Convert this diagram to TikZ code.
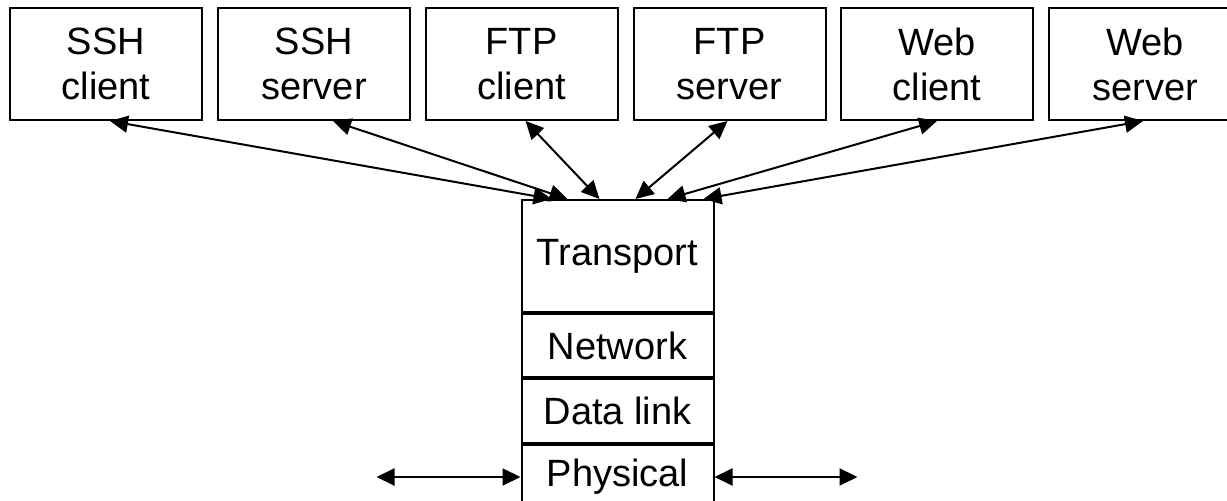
\documentclass[tikz,border=0pt]{standalone}
\usepackage{fontspec}
\setmainfont{Liberation Sans}
\usepackage{tikz}
\usetikzlibrary{arrows.meta}
\usetikzlibrary{positioning}

\begin{document}
\begin{tikzpicture}[x=0.5pt,y=-0.5pt]
      \tikzstyle{app}=[
        draw=black,
        line width=1pt,
        minimum width=96pt,
        minimum height=56pt,
        inner sep=0pt,
        align=center,
        font=\fontsize{19}{22.5}\selectfont,
      ]
      \tikzstyle{layer}=[app, minimum height=32pt]
      \tikzstyle{dedge}=[{Triangle[length=9pt,width=8.5pt]}-{Triangle[length=9pt,width=8.5pt]},line width=1pt,draw=black]

      \useasboundingbox (0,0) rectangle (1227,501);

      % applications
      \node[app] (sshc) at (106,64) {SSH\\client};
      \node[app] (sshs) at (314,64) {SSH\\server};
      \node[app] (ftpc) at (521.5,64) {FTP\\client};
      \node[app] (ftps) at (729.5,64) {FTP\\server};
      \node[app] (webc) at (937,64) {Web\\client};
      \node[app] (webs) at (1145,64) {Web\\server};

      % protocol stack
      \node[app] (trans) at (617.5,256) {Transport};
      \node[layer, minimum height=31.5pt, below=0pt of trans] (net) {Network};
      \node[layer, below=0pt of net] (dlink) {Data link};
      \node[layer, below=0pt of dlink] (phys) {Physical};

      \coordinate[left=72pt of phys.west] (wirel);
      \coordinate[right=71.5pt of phys.east] (wirer);

      \draw[dedge] ([xshift=2pt]sshc.south) -- ([xshift=-33pt]trans.north);
      \draw[dedge] ([xshift=9.5pt]sshs.south) -- ([xshift=-25pt]trans.north);
      \draw[dedge] ([xshift=2pt]ftpc.south) -- ([xshift=-9pt]trans.north);
      \draw[dedge] ([xshift=-1pt]ftps.south) -- ([xshift=9pt]trans.north);
      \draw[dedge] (webc.south) -- ([xshift=25pt]trans.north);
      \draw[dedge] ([xshift=-1pt]webs.south) -- ([xshift=43pt]trans.north);

      \draw[dedge] (wirel) -- (phys.west);
      \draw[dedge] (phys.east) -- (wirer);
\end{tikzpicture}
\end{document}
